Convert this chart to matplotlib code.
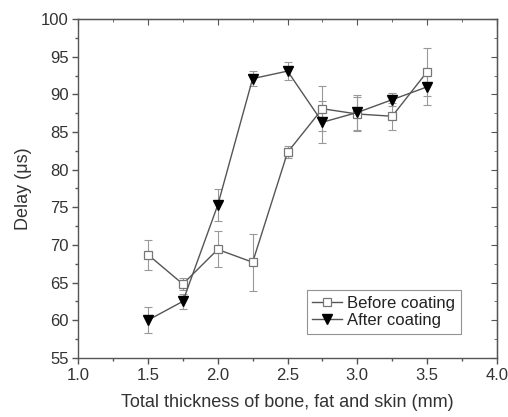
import matplotlib.pyplot as plt
from matplotlib.ticker import MultipleLocator

plt.rcParams["font.family"] = ["Liberation Sans", "DejaVu Sans"]

thickness = [1.5, 1.75, 2.0, 2.25, 2.5, 2.75, 3.0, 3.25, 3.5]

before_delay = [68.7, 64.8, 69.4, 67.7, 82.3, 88.1, 87.4, 87.1, 93.0]
before_err = [2.0, 0.8, 2.4, 3.8, 0.8, 3.0, 2.3, 1.8, 3.2]

after_delay = [60.0, 62.5, 75.3, 92.1, 93.1, 86.3, 87.6, 89.3, 91.0]
after_err = [1.7, 1.0, 2.1, 1.0, 1.2, 2.8, 2.3, 0.9, 2.4]

line_col = "#555555"
text_col = "#333333"

fig = plt.figure(figsize=(5.08, 4.17), dpi=100)
ax = fig.add_axes([0.154, 0.142, 0.824, 0.812])

# error bars first, then the lines + markers on top
for y, err in [(before_delay, before_err), (after_delay, after_err)]:
    ax.errorbar(thickness, y, yerr=err, fmt="none", ecolor="#999999",
                elinewidth=0.8, capsize=3, capthick=0.8)

ax.plot(thickness, before_delay, color=line_col, lw=1.0,
        marker="s", ms=6, mfc="white", mec="#777777", mew=0.9,
        label="Before coating")
ax.plot(thickness, after_delay, color=line_col, lw=1.0,
        marker="v", ms=7, mfc="black", mec="black",
        label="After coating")

ax.set_xlim(1.0, 4.0)
ax.set_ylim(55, 100)
ax.xaxis.set_major_locator(MultipleLocator(0.5))
ax.xaxis.set_minor_locator(MultipleLocator(0.25))
ax.yaxis.set_major_locator(MultipleLocator(5))
ax.yaxis.set_minor_locator(MultipleLocator(2.5))
ax.set_xticklabels([f"{v:.1f}" for v in ax.get_xticks()])

ax.tick_params(which="both", direction="out", colors=line_col,
               labelcolor=text_col, labelsize=12)
ax.tick_params(which="major", length=4, width=1, pad=3)
ax.tick_params(which="minor", length=2.5, width=1)
for side in ax.spines.values():
    side.set_color(line_col)
    side.set_linewidth(1.0)

# mirrored inward ticks on top and right
top = ax.secondary_xaxis("top")
top.xaxis.set_major_locator(MultipleLocator(0.5))
top.xaxis.set_minor_locator(MultipleLocator(0.25))
top.tick_params(which="both", direction="in", colors=line_col, labeltop=False)
top.tick_params(which="major", length=4)
top.tick_params(which="minor", length=2.5)
right = ax.secondary_yaxis("right")
right.yaxis.set_major_locator(MultipleLocator(5))
right.yaxis.set_minor_locator(MultipleLocator(2.5))
right.tick_params(which="both", direction="in", colors=line_col, labelright=False)
right.tick_params(which="major", length=4)
right.tick_params(which="minor", length=2.5)

ax.set_xlabel("Total thickness of bone, fat and skin (mm)", fontsize=13,
              color=text_col, labelpad=8)
ax.set_ylabel("Delay (\u03bcs)", fontsize=13, color=text_col, labelpad=6)

leg = ax.legend(loc="lower right", bbox_to_anchor=(0.915, 0.07), fontsize=12,
                frameon=True, fancybox=False, edgecolor="#777777",
                handlelength=1.8, handletextpad=0.3, borderpad=0.35,
                labelspacing=0.15, borderaxespad=0)
leg.get_frame().set_linewidth(0.8)
for t in leg.get_texts():
    t.set_color("#222222")

fig.savefig("out.png", dpi=100)
